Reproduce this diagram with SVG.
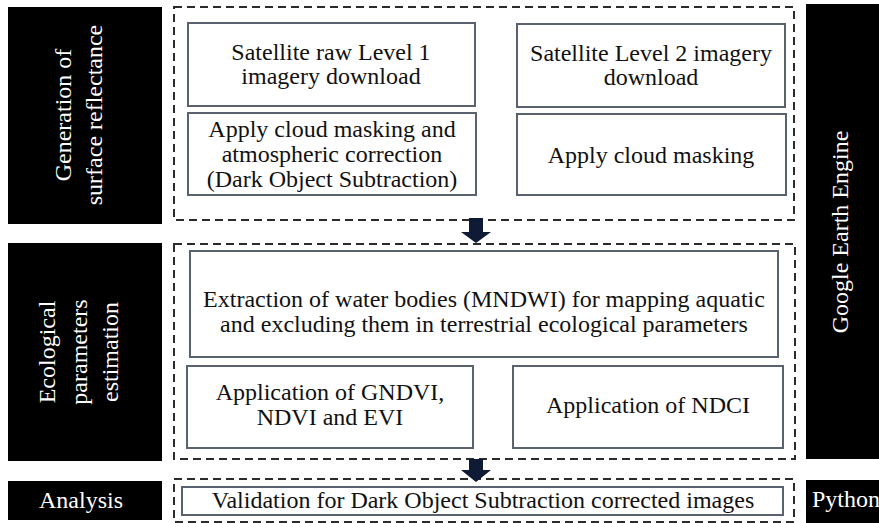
<svg xmlns="http://www.w3.org/2000/svg" width="879" height="523" viewBox="0 0 879 523" font-family="'Liberation Serif', 'Times New Roman', serif">
<defs>
<style>
.side{fill:#000}
.sidet{fill:#fff;font-family:"Liberation Serif","Times New Roman",serif;font-size:24px;text-anchor:middle}
.dash{fill:none;stroke:#2b2b2b;stroke-width:2;stroke-dasharray:8 5}
.box{fill:#fff;stroke:#5a6270;stroke-width:2}
.btxt{fill:#111;font-family:"Liberation Serif","Times New Roman",serif;font-size:24px;text-anchor:middle}
.arr{fill:#0f1a35}
</style>
</defs>
<rect width="879" height="523" fill="#fff"/>
<g id="label-generation">
<rect class="side" x="8" y="7" width="154" height="217"/>
<text class="sidet" transform="translate(71,115) rotate(-90)">Generation of</text>
<text class="sidet" transform="translate(102,115) rotate(-90)">surface reflectance</text>
</g>
<g id="label-ecological">
<rect class="side" x="8" y="243" width="154" height="218"/>
<text class="sidet" transform="translate(55,352) rotate(-90)">Ecological</text>
<text class="sidet" transform="translate(87,352) rotate(-90)">parameters</text>
<text class="sidet" transform="translate(118,352) rotate(-90)">estimation</text>
</g>
<g id="label-analysis">
<rect class="side" x="8" y="481" width="154" height="39"/>
<text class="sidet" x="81" y="508">Analysis</text>
</g>
<g id="label-gee">
<rect class="side" x="806" y="4" width="80" height="455"/>
<text class="sidet" transform="translate(848,232) rotate(-90)">Google Earth Engine</text>
</g>
<g id="label-python">
<rect class="side" x="806" y="480" width="80" height="43"/>
<text class="sidet" x="812" y="507" style="text-anchor:start">Python</text>
</g>
<g id="group-1">
<rect class="dash" x="174" y="7" width="620" height="213"/>
</g>
<g id="group-2">
<rect class="dash" x="174" y="244" width="621" height="215"/>
</g>
<g id="group-3">
<rect class="dash" x="174" y="479" width="620" height="43"/>
</g>
<g id="n-raw" font-family="'Liberation Serif', serif">
<rect class="box" x="188" y="23" width="287" height="83"/>
<text class="btxt" x="331" y="60">Satellite raw Level 1</text>
<text class="btxt" x="331" y="84">imagery download</text>
</g>
<g id="n-dos" font-family="'Liberation Serif', serif">
<rect class="box" x="188" y="113" width="288" height="82"/>
<text class="btxt" x="332" y="137">Apply cloud masking and</text>
<text class="btxt" x="332" y="162">atmospheric correction</text>
<text class="btxt" x="332" y="187">(Dark Object Subtraction)</text>
</g>
<g id="n-l2" font-family="'Liberation Serif', serif">
<rect class="box" x="517" y="24" width="268" height="83"/>
<text class="btxt" x="651" y="61">Satellite Level 2 imagery</text>
<text class="btxt" x="651" y="85">download</text>
</g>
<g id="n-mask" font-family="'Liberation Serif', serif">
<rect class="box" x="517" y="114" width="269" height="81"/>
<text class="btxt" x="651" y="163">Apply cloud masking</text>
</g>
<g id="n-mndwi" font-family="'Liberation Serif', serif">
<rect class="box" x="190" y="251" width="588" height="106"/>
<text class="btxt" x="484" y="307">Extraction of water bodies (MNDWI) for mapping aquatic</text>
<text class="btxt" x="484" y="332">and excluding them in terrestrial ecological parameters</text>
</g>
<g id="n-gndvi" font-family="'Liberation Serif', serif">
<rect class="box" x="187" y="366" width="286" height="82"/>
<text class="btxt" x="330" y="400">Application of GNDVI,</text>
<text class="btxt" x="330" y="425">NDVI and EVI</text>
</g>
<g id="n-ndci" font-family="'Liberation Serif', serif">
<rect class="box" x="513" y="366" width="270" height="82"/>
<text class="btxt" x="648" y="413">Application of NDCI</text>
</g>
<g id="n-valid" font-family="'Liberation Serif', serif">
<rect class="box" x="182" y="487" width="601" height="28"/>
<text class="btxt" x="483" y="508">Validation for Dark Object Subtraction corrected images</text>
</g>
<g id="connectors">
<path class="arr" d="M469,218 H483 V232 H491 L476,243 L461,232 H469 Z"/>
<path class="arr" d="M469,459 H483 V470 H491 L476,482 L461,470 H469 Z"/>
</g>
</svg>
